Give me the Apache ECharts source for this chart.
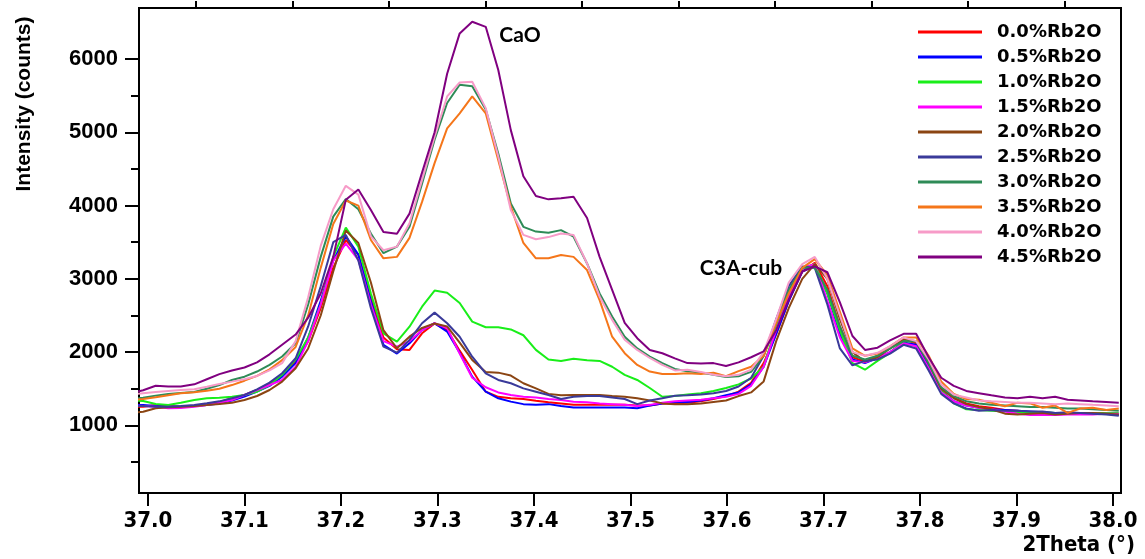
<!DOCTYPE html>
<html lang="en">

<head>
    <meta charset="UTF-8">
    <title>Rb2O XRD 37-38</title>
    <script type="text/javascript" src="https://cdn.jsdelivr.net/npm/echarts@6.0.0/dist/echarts.min.js"></script>
    <style>
        html, body { margin: 0; padding: 0; background: #fff; }
    </style>
</head>

<body>
    <div id="main" style="width: 1145px; height: 559px;"></div>

    <script type="text/javascript">
        // 2theta positions (step of the scan)
        var twoTheta = [36.982,
            36.995, 37.008, 37.021, 37.034, 37.048, 37.061, 37.074, 37.087, 37.100, 37.113,
            37.126, 37.139, 37.153, 37.166, 37.179, 37.192, 37.205, 37.218, 37.231, 37.244,
            37.258, 37.271, 37.284, 37.297, 37.310, 37.323, 37.336, 37.350, 37.363, 37.376,
            37.389, 37.402, 37.415, 37.428, 37.441, 37.455, 37.468, 37.481, 37.494, 37.507,
            37.520, 37.533, 37.546, 37.559, 37.573, 37.586, 37.599, 37.612, 37.625, 37.638,
            37.651, 37.664, 37.678, 37.691, 37.704, 37.717, 37.730, 37.743, 37.756, 37.769,
            37.783, 37.796, 37.809, 37.822, 37.835, 37.848, 37.861, 37.874, 37.888, 37.901,
            37.914, 37.927, 37.940, 37.953, 37.966, 37.979, 37.993, 38.006];

        // intensities (counts), one array per sample
        var rb00 = [1250,
            1255, 1278, 1265, 1255, 1265, 1292, 1319, 1370, 1415, 1483,
            1574, 1674, 1870, 2150, 2600, 3150, 3530, 3330, 2750, 2200,
            2040, 2030, 2257, 2390, 2300, 2020, 1756, 1460, 1390, 1370,
            1360, 1335, 1315, 1300, 1280, 1280, 1280, 1280, 1280, 1270,
            1270, 1300, 1300, 1310, 1330, 1360, 1400, 1460, 1580, 1850,
            2250, 2700, 3100, 3220, 2900, 2350, 1930, 1870, 1950, 2050,
            2170, 2120, 1850, 1500, 1380, 1300, 1260, 1240, 1210, 1200,
            1180, 1170, 1160, 1160, 1160, 1160, 1170, 1150];
        var rb05 = [1280,
            1278, 1265, 1255, 1255, 1265, 1278, 1300, 1338, 1392, 1460,
            1538, 1665, 1850, 2200, 2700, 3250, 3580, 3330, 2700, 2100,
            1980, 2120, 2300, 2394, 2280, 1990, 1665, 1460, 1370, 1324,
            1290, 1280, 1290, 1265, 1245, 1245, 1245, 1245, 1245, 1235,
            1270, 1300, 1320, 1320, 1340, 1370, 1410, 1450, 1560, 1800,
            2250, 2700, 3100, 3180, 2800, 2250, 1900, 1850, 1920, 2000,
            2130, 2100, 1800, 1470, 1330, 1270, 1240, 1220, 1210, 1200,
            1190, 1180, 1170, 1160, 1160, 1160, 1160, 1150];
        var rb10 = [1340,
            1333, 1292, 1278, 1310, 1347, 1370, 1378, 1392, 1415, 1460,
            1550, 1690, 1900, 2200, 2650, 3300, 3700, 3440, 2800, 2257,
            2143, 2347, 2620, 2840, 2810, 2670, 2416, 2340, 2340, 2310,
            2230, 2030, 1900, 1880, 1910, 1890, 1880, 1800, 1690, 1620,
            1510, 1390, 1400, 1420, 1440, 1470, 1510, 1560, 1640, 1800,
            2350, 2800, 3150, 3200, 2800, 2300, 1850, 1760, 1880, 1990,
            2150, 2150, 1850, 1480, 1300, 1220, 1210, 1200, 1190, 1180,
            1180, 1180, 1170, 1160, 1160, 1160, 1170, 1170];
        var rb15 = [1270,
            1265, 1255, 1233, 1237, 1255, 1278, 1310, 1347, 1415, 1483,
            1551, 1620, 1800, 2150, 2650, 3250, 3480, 3260, 2650, 2150,
            2074, 2150, 2300, 2394, 2330, 1980, 1650, 1520, 1450, 1415,
            1392, 1380, 1360, 1347, 1324, 1315, 1300, 1290, 1280, 1265,
            1280, 1310, 1330, 1340, 1350, 1370, 1390, 1430, 1540, 1800,
            2300, 2750, 3150, 3200, 2700, 2200, 1880, 1860, 1920, 2000,
            2120, 2080, 1780, 1450, 1330, 1270, 1240, 1220, 1190, 1160,
            1140, 1140, 1140, 1150, 1150, 1150, 1160, 1160];
        var rb20 = [1170,
            1187, 1233, 1246, 1255, 1265, 1278, 1292, 1310, 1347, 1401,
            1483, 1597, 1780, 2050, 2500, 3100, 3660, 3490, 2950, 2300,
            2052, 2211, 2330, 2390, 2350, 2130, 1893, 1730, 1720, 1680,
            1575, 1505, 1430, 1410, 1415, 1415, 1415, 1400, 1390, 1370,
            1340, 1300, 1290, 1290, 1300, 1320, 1340, 1400, 1450, 1600,
            2150, 2600, 3000, 3200, 3000, 2450, 2000, 1870, 1930, 2050,
            2180, 2150, 1850, 1500, 1370, 1290, 1250, 1220, 1160, 1150,
            1160, 1170, 1150, 1160, 1170, 1170, 1160, 1150];
        var rb25 = [1260,
            1265, 1255, 1255, 1265, 1278, 1301, 1328, 1370, 1415, 1492,
            1583, 1711, 1916, 2350, 2900, 3500, 3600, 3250, 2600, 2074,
            1993, 2166, 2394, 2539, 2394, 2210, 1938, 1710, 1620, 1575,
            1505, 1460, 1415, 1360, 1390, 1400, 1400, 1380, 1360, 1290,
            1340, 1370, 1405, 1410, 1420, 1440, 1470, 1530, 1650, 1950,
            2450, 2900, 3170, 3150, 2650, 2050, 1820, 1880, 1900, 1980,
            2100, 2050, 1750, 1430, 1300, 1230, 1200, 1210, 1200, 1200,
            1190, 1190, 1170, 1180, 1170, 1160, 1150, 1130];
        var rb30 = [1360,
            1378, 1406, 1429, 1442, 1456, 1500, 1550, 1620, 1665, 1735,
            1825, 1940, 2120, 2650, 3300, 3850, 4090, 3950, 3620, 3350,
            3440, 3710, 4300, 4900, 5400, 5650, 5630, 5310, 4710, 4030,
            3710, 3645, 3630, 3665, 3575, 3210, 2800, 2485, 2210, 2050,
            1940, 1850, 1770, 1740, 1720, 1690, 1660, 1670, 1730, 1950,
            2400, 2850, 3150, 3150, 2850, 2350, 1950, 1900, 1950, 2050,
            2150, 2150, 1850, 1520, 1400, 1330, 1300, 1280, 1270, 1260,
            1250, 1250, 1240, 1230, 1230, 1220, 1210, 1200];
        var rb35 = [1340,
            1360, 1383, 1410, 1438, 1451, 1474, 1500, 1550, 1610, 1675,
            1765, 1890, 2070, 2500, 3150, 3750, 4070, 4000, 3530, 3280,
            3300, 3560, 4050, 4580, 5055, 5260, 5490, 5260, 4620, 3985,
            3490, 3280, 3280, 3325, 3300, 3120, 2710, 2210, 1985, 1825,
            1735, 1700, 1700, 1710, 1700, 1720, 1670, 1740, 1800, 1950,
            2400, 2800, 3150, 3270, 3050, 2550, 2050, 1950, 1980, 2080,
            2200, 2200, 1950, 1600, 1430, 1360, 1350, 1310, 1260, 1310,
            1300, 1240, 1270, 1170, 1230, 1240, 1210, 1230];
        var rb40 = [1420,
            1438, 1456, 1470, 1483, 1492, 1528, 1565, 1597, 1630, 1675,
            1750, 1850, 2150, 2750, 3450, 3950, 4270, 4150, 3580, 3390,
            3440, 3760, 4350, 4940, 5490, 5680, 5690, 5330, 4670, 3940,
            3600, 3540, 3570, 3620, 3600, 3210, 2760, 2440, 2170, 2030,
            1920, 1825, 1750, 1760, 1730, 1690, 1670, 1690, 1760, 2000,
            2450, 2950, 3200, 3300, 3000, 2500, 2000, 1950, 1990, 2080,
            2200, 2150, 1900, 1560, 1420, 1380, 1340, 1330, 1320, 1310,
            1310, 1300, 1290, 1300, 1290, 1280, 1270, 1260];
        var rb45 = [1440,
            1480, 1540, 1530, 1532, 1560, 1630, 1700, 1750, 1790, 1860,
            1970, 2100, 2240, 2470, 2800, 3300, 4080, 4220, 3940, 3640,
            3615, 3890, 4450, 5000, 5800, 6350, 6510, 6440, 5850, 5030,
            4400, 4130, 4085, 4100, 4120, 3830, 3300, 2850, 2400, 2190,
            2030, 1985, 1915, 1850, 1845, 1850, 1810, 1860, 1930, 2010,
            2300, 2720, 3100, 3170, 3090, 2680, 2220, 2030, 2060, 2160,
            2250, 2250, 1930, 1650, 1540, 1470, 1440, 1410, 1380, 1370,
            1390, 1370, 1390, 1350, 1340, 1330, 1320, 1310];

        var sampleNames = ['0.0%Rb2O', '0.5%Rb2O', '1.0%Rb2O', '1.5%Rb2O', '2.0%Rb2O',
            '2.5%Rb2O', '3.0%Rb2O', '3.5%Rb2O', '4.0%Rb2O', '4.5%Rb2O'];
        var sampleColors = ['#ff0000', '#0000ff', '#19ee19', '#ff00ff', '#8b4513',
            '#3a3a9a', '#2e8b57', '#f5761a', '#f79bc8', '#800080'];
        var sampleData = [rb00, rb05, rb10, rb15, rb20, rb25, rb30, rb35, rb40, rb45];

        // tick labels
        var xTickLabels = [37.0, 37.1, 37.2, 37.3, 37.4, 37.5, 37.6, 37.7, 37.8, 37.9, 38.0];
        var xMinorTicks = [37.05, 37.15, 37.25, 37.35, 37.45, 37.55, 37.65, 37.75, 37.85, 37.95];
        var yTickLabels = [1000, 2000, 3000, 4000, 5000, 6000];
        var yMinorTicks = [500, 1500, 2500, 3500, 4500, 5500];

        var myChart = echarts.init(document.getElementById('main'));

        var series = [];
        for (var i = 0; i < sampleData.length; i++) {
            var pts = [];
            for (var j = 0; j < twoTheta.length; j++) {
                pts.push([twoTheta[j], sampleData[i][j]]);
            }
            series.push({
                name: sampleNames[i],
                type: 'line',
                data: pts,
                symbol: 'none',
                showSymbol: false,
                clip: true,
                color: sampleColors[i],
                lineStyle: { color: sampleColors[i], width: 2 }
            });
        }

        var xMin = 36.9907, xMax = 38.0083;
        var yMin = 77, yMax = 6697;
        var black = '#000';
        var narrowFont = "'Liberation Sans Narrow', 'DejaVu Sans Condensed', sans-serif";

        myChart.setOption({
            animation: false,
            backgroundColor: '#fff',
            grid: {
                left: 139, right: 24, top: 8, bottom: 66,
                show: true, borderColor: black, borderWidth: 2,
                outerBoundsMode: 'none'
            },
            legend: {
                orient: 'vertical',
                left: 913,
                top: 17,
                icon: 'rect',
                itemWidth: 64,
                itemHeight: 3,
                itemGap: 5,
                selectedMode: false,
                textStyle: {
                    color: black, fontSize: 18, fontWeight: 'bold',
                    fontFamily: 'DejaVu Sans', lineHeight: 20,
                    padding: [0, 0, 0, 10]
                },
                data: sampleNames
            },
            xAxis: [{
                type: 'value', min: xMin, max: xMax,
                axisLine: { show: true, onZero: false, lineStyle: { color: black, width: 2 } },
                axisTick: { show: true, customValues: xTickLabels, length: 13, lineStyle: { color: black, width: 2 } },
                axisLabel: {
                    customValues: xTickLabels, margin: 17,
                    formatter: function (v) { return v.toFixed(1); },
                    color: black, fontSize: 22, fontWeight: 'bold',
                    fontFamily: narrowFont
                },
                splitLine: { show: false }
            }, {
                type: 'value', min: xMin, max: xMax,
                axisLine: { show: false, onZero: false },
                axisTick: { show: true, customValues: xMinorTicks, length: 7, lineStyle: { color: black, width: 2 } },
                axisLabel: { show: false },
                splitLine: { show: false }
            }],
            yAxis: [{
                type: 'value', min: yMin, max: yMax, position: 'left',
                axisLine: { show: true, onZero: false, lineStyle: { color: black, width: 2 } },
                axisTick: { show: true, customValues: yTickLabels, length: 14, lineStyle: { color: black, width: 2 } },
                axisLabel: {
                    customValues: yTickLabels, margin: 21,
                    formatter: function (v) { return String(v); },
                    color: black, fontSize: 22, fontWeight: 'bold', fontFamily: 'Liberation Sans'
                },
                splitLine: { show: false }
            }, {
                type: 'value', min: yMin, max: yMax, position: 'left', offset: 0,
                axisLine: { show: false, onZero: false },
                axisTick: { show: true, customValues: yMinorTicks, length: 8, lineStyle: { color: black, width: 2 } },
                axisLabel: { show: false },
                splitLine: { show: false }
            }],
            graphic: [{
                type: 'text', x: 24, y: 104, rotation: Math.PI / 2,
                style: {
                    text: 'Intensity (counts)', align: 'center', verticalAlign: 'middle',
                    fill: black, font: 'bold 21px "Liberation Sans"'
                }
            }, {
                type: 'text', x: 1135, y: 545,
                style: {
                    text: '2Theta (°)', align: 'right', verticalAlign: 'middle',
                    fill: black, font: 'bold 22px ' + narrowFont
                }
            }, {
                type: 'text', x: 520, y: 35,
                style: {
                    text: 'CaO', align: 'center', verticalAlign: 'middle',
                    fill: black, font: 'bold 21px Lato'
                }
            }, {
                type: 'text', x: 741, y: 268,
                style: {
                    text: 'C3A-cub', align: 'center', verticalAlign: 'middle',
                    fill: black, font: 'bold 21px Lato'
                }
            }],
            series: series
        });
    </script>

</body>

</html>
